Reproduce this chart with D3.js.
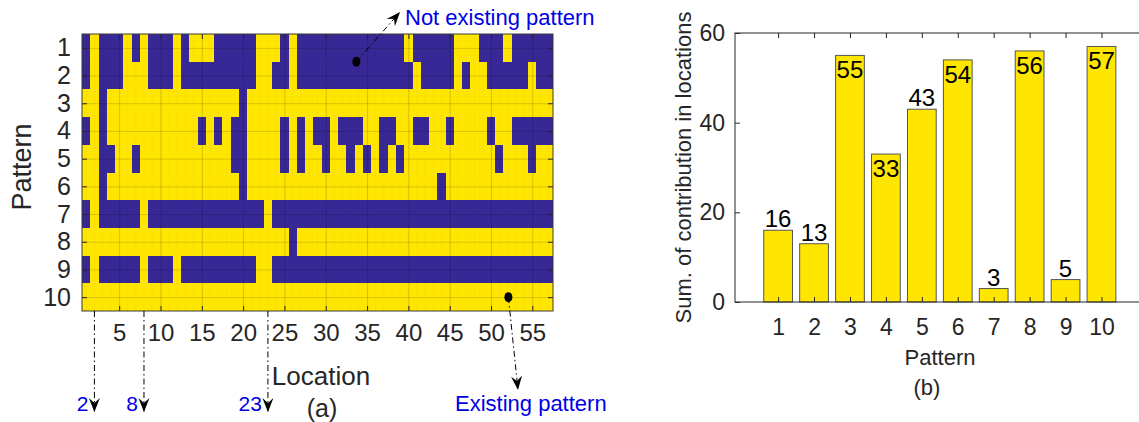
<!DOCTYPE html>
<html>
<head>
<meta charset="utf-8">
<script src="https://cdn.jsdelivr.net/npm/d3@7"></script>
<style>
  body { margin: 0; background: #fff; }
  svg { font-family: "Liberation Sans", Arial, sans-serif; }
</style>
</head>
<body>
<svg id="fig" width="1139" height="422"></svg>
<script>
// --- data ---
const patterns = d3.range(1, 11)
const locations = d3.range(1, 58)
// 1 = pattern exists at that location, 0 = not; groups of ten locations
const presence = [
  "0100010100 0101110000 0111010000 0000000001 0000011100 0100000",
  "0100011100 0100000000 0110010000 0000000000 1000010110 0000100",
  "1101111111 1111111110 1111111111 1111111111 1111111111 1111111",
  "0101111111 1111010100 1111010100 1000110011 0011011110 1100000",
  "1100110111 1111111100 1111010110 1101010101 1111111111 0111011",
  "1101111111 1111111110 1111111111 1111111111 1110111111 1111111",
  "0100000100 0000000000 0010000000 0000000000 0000000000 0000000",
  "1111111111 1111111111 1111101111 1111111111 1111111111 1111111",
  "0100000100 0100000000 0110000000 0000000000 0000000000 0000000",
  "1111111111 1111111111 1111111111 1111111111 1111111111 1111111"
]
const sums = [16, 13, 55, 33, 43, 54, 3, 56, 5, 57]
const locationTicks = [5, 10, 15, 20, 25, 30, 35, 40, 45, 50, 55]
const sumTicks = [0, 20, 40, 60]
const markedLocations = [2, 8, 23]
const insideLabels = [3, 4, 6, 8, 10]   // patterns whose value sits inside the bar

const yellow = "#ffe600", blue = "#372896", ink = "#262626", note = "#0000e6"

const svg = d3.select("#fig")

// ---------- (a) heatmap ----------
const x = d3.scaleLinear().domain([0.5, 57.5]).range([82, 553])
const y = d3.scaleLinear().domain([0.5, 10.5]).range([34, 311])

const cells = []
presence.forEach((row, i) => {
  row.replace(/ /g, "").split("").forEach((v, j) => {
    cells.push({ p: patterns[i], loc: locations[j], on: v === "1" })
  })
})

const ga = svg.append("g")

ga.selectAll("rect.cell")
  .data(cells)
  .enter()
  .append("rect")
  .attr("class", "cell")
  .attr("x", d => x(d.loc - 0.5))
  .attr("y", d => y(d.p - 0.5))
  .attr("width", x(1.5) - x(0.5))
  .attr("height", y(1.5) - y(0.5))
  .attr("fill", d => d.on ? yellow : blue)
  .attr("shape-rendering", "crispEdges")

// faint grid
ga.append("g")
  .selectAll("line")
  .data(locations)
  .enter()
  .append("line")
  .attr("x1", d => x(d)).attr("x2", d => x(d))
  .attr("y1", y(0.5)).attr("y2", y(10.5))
  .attr("stroke", "#000").attr("stroke-opacity", 0.12)
  .attr("stroke-width", 0.6).attr("stroke-dasharray", "1,2")
ga.append("g")
  .attr("transform", `translate(0,${y(10.5)})`)
  .call(d3.axisBottom(x).tickValues(locationTicks).tickSize(-(y(10.5) - y(0.5))).tickFormat(""))
  .call(g => g.select(".domain").remove())
  .call(g => g.selectAll("line").attr("stroke", "#000").attr("stroke-opacity", 0.15))
ga.append("g")
  .attr("transform", `translate(${x(0.5)},0)`)
  .call(d3.axisLeft(y).tickValues(patterns).tickSize(-(x(57.5) - x(0.5))).tickFormat(""))
  .call(g => g.select(".domain").remove())
  .call(g => g.selectAll("line").attr("stroke", "#000").attr("stroke-opacity", 0.15))

// axes with inward ticks
const styleAxis = (g, size) => {
  g.select(".domain").remove()
  g.selectAll("line").attr("stroke", ink)
  g.selectAll("text").attr("fill", ink).style("font-size", size + "px").style("font-family", "Liberation Sans, Arial, sans-serif")
}
ga.append("g")
  .attr("transform", `translate(0,${y(10.5)})`)
  .call(d3.axisBottom(x).tickValues(locationTicks).tickSize(-5).tickPadding(13))
  .call(g => styleAxis(g, 24))
ga.append("g")
  .attr("transform", `translate(0,${y(0.5)})`)
  .call(d3.axisTop(x).tickValues(locationTicks).tickSize(-5).tickFormat(""))
  .call(g => styleAxis(g, 24))
ga.append("g")
  .attr("transform", `translate(${x(0.5)},0)`)
  .call(d3.axisLeft(y).tickValues(patterns).tickSize(-5).tickPadding(11))
  .call(g => styleAxis(g, 25))
ga.append("g")
  .attr("transform", `translate(${x(57.5)},0)`)
  .call(d3.axisRight(y).tickValues(patterns).tickSize(-5).tickFormat(""))
  .call(g => styleAxis(g, 25))

ga.append("rect")
  .attr("x", x(0.5)).attr("y", y(0.5))
  .attr("width", x(57.5) - x(0.5)).attr("height", y(10.5) - y(0.5))
  .attr("fill", "none").attr("stroke", "#3a3a3a").attr("stroke-width", 1)

ga.append("text")
  .attr("transform", `translate(31,167) rotate(-90)`)
  .attr("text-anchor", "middle").attr("fill", ink)
  .style("font-size", "27px").text("Pattern")
ga.append("text")
  .attr("x", 321).attr("y", 385)
  .attr("text-anchor", "middle").attr("fill", ink)
  .style("font-size", "26px").text("Location")
ga.append("text")
  .attr("x", 322).attr("y", 417)
  .attr("text-anchor", "middle").attr("fill", ink)
  .style("font-size", "25px").text("(a)")

// annotations
function arrow(g, x1, y1, x2, y2) {
  const a = Math.atan2(y2 - y1, x2 - x1) * 180 / Math.PI
  g.append("line")
    .attr("x1", x1).attr("y1", y1).attr("x2", x2).attr("y2", y2)
    .attr("stroke", "#000").attr("stroke-width", 1)
    .attr("stroke-dasharray", "6,3,1.5,3")
  g.append("path")
    .attr("d", "M0,0L-14,-5.5L-9,0L-14,5.5Z")
    .attr("transform", `translate(${x2},${y2}) rotate(${a})`)
    .attr("fill", "#000")
}

markedLocations.forEach(loc => {
  arrow(ga, x(loc), y(10.5), x(loc), 412)
  ga.append("text")
    .attr("x", x(loc) - 6).attr("y", 411)
    .attr("text-anchor", "end").attr("fill", note)
    .style("font-size", "21px").text(loc)
})

// "Not existing pattern"
const d1 = [x(33.7), y(1.5)]
ga.append("ellipse").attr("cx", d1[0]).attr("cy", d1[1]).attr("rx", 4).attr("ry", 5).attr("fill", "#000")
arrow(ga, d1[0], d1[1], 400, 12)
ga.append("text")
  .attr("x", 405).attr("y", 25)
  .attr("fill", note).style("font-size", "22px")
  .text("Not existing pattern")

// "Existing pattern"
const d2 = [x(52.1), y(10)]
ga.append("ellipse").attr("cx", d2[0]).attr("cy", d2[1]).attr("rx", 4).attr("ry", 5).attr("fill", "#000")
arrow(ga, d2[0], d2[1], 518, 390)
ga.append("text")
  .attr("x", 455).attr("y", 411)
  .attr("fill", note).style("font-size", "22px")
  .text("Existing pattern")

// ---------- (b) bar chart ----------
const xb = d3.scaleLinear().domain([-0.2, 11.2]).range([735, 1144.6])
const yb = d3.scaleLinear().domain([0, 60]).range([302, 33])
const gb = svg.append("g")

gb.selectAll("rect.bar")
  .data(sums)
  .enter()
  .append("rect")
  .attr("class", "bar")
  .attr("x", (d, i) => xb(patterns[i] - 0.4))
  .attr("y", d => yb(d))
  .attr("width", xb(0.8) - xb(0))
  .attr("height", d => yb(0) - yb(d))
  .attr("fill", yellow)
  .attr("stroke", "#555").attr("stroke-width", 1)

gb.selectAll("text.val")
  .data(sums)
  .enter()
  .append("text")
  .attr("class", "val")
  .attr("x", (d, i) => xb(patterns[i]))
  .attr("y", (d, i) => insideLabels.includes(patterns[i]) ? yb(d) + 23 : yb(d) - 3)
  .attr("text-anchor", "middle")
  .attr("fill", "#000")
  .style("font-size", "24px")
  .text(d => d)

gb.append("g")
  .attr("transform", `translate(0,${yb(0)})`)
  .call(d3.axisBottom(xb).tickValues(patterns).tickSize(-5).tickPadding(17))
  .call(g => styleAxis(g, 23))
gb.append("g")
  .attr("transform", `translate(0,${yb(60)})`)
  .call(d3.axisTop(xb).tickValues(patterns).tickSize(-5).tickFormat(""))
  .call(g => styleAxis(g, 23))
gb.append("g")
  .attr("transform", `translate(${xb(-0.2)},0)`)
  .call(d3.axisLeft(yb).tickValues(sumTicks).tickSize(-5).tickPadding(10))
  .call(g => styleAxis(g, 23))

gb.append("rect")
  .attr("x", xb(-0.2)).attr("y", yb(60))
  .attr("width", xb(11.2) - xb(-0.2)).attr("height", yb(0) - yb(60))
  .attr("fill", "none").attr("stroke", ink).attr("stroke-width", 1)

gb.append("text")
  .attr("transform", `translate(691,167.5) rotate(-90)`)
  .attr("text-anchor", "middle").attr("fill", ink)
  .style("font-size", "22px").text("Sum. of contribution in locations")
gb.append("text")
  .attr("x", 940).attr("y", 365)
  .attr("text-anchor", "middle").attr("fill", ink)
  .style("font-size", "22px").text("Pattern")
gb.append("text")
  .attr("x", 927).attr("y", 395)
  .attr("text-anchor", "middle").attr("fill", ink)
  .style("font-size", "22px").text("(b)")
</script>
</body>
</html>
